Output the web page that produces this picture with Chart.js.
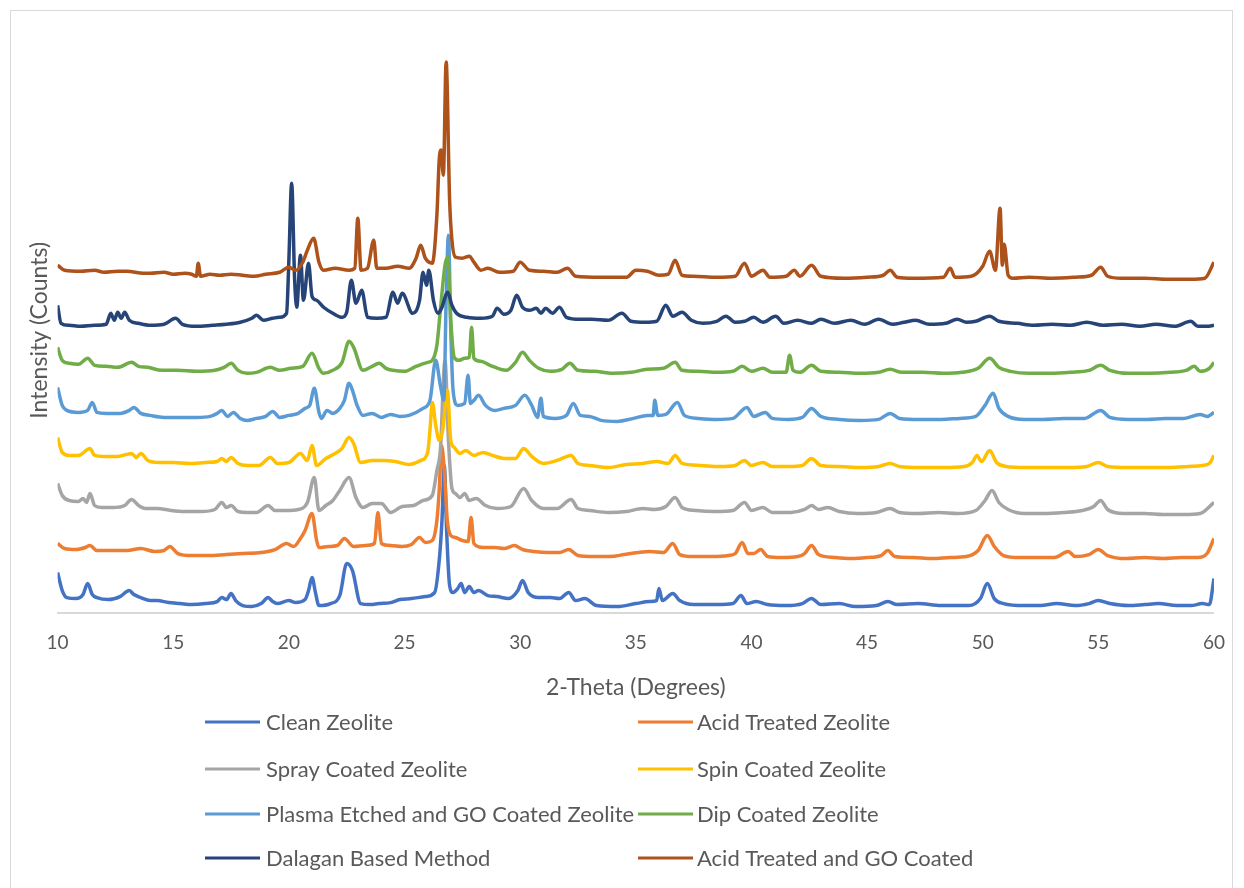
<!DOCTYPE html>
<html>
<head>
<meta charset="utf-8">
<title>XRD Patterns</title>
<script src="https://cdn.jsdelivr.net/npm/chart.js@4.4.1/dist/chart.umd.min.js"></script>
<style>
    html, body { margin: 0; padding: 0; background: #ffffff; }
    #wrap { position: relative; width: 1244px; height: 888px; }
</style>
</head>
<body>
<div id="wrap"><canvas id="xrdChart" width="1244" height="888"></canvas></div>
<script>
// XRD patterns, stacked (values already include the vertical offset)

// Axis
const xTicks = [10, 15, 20, 25, 30, 35, 40, 45, 50, 55, 60];
const yRange = [0, 564];

// Series: [2-theta, intensity]
const cleanZeolite = [
    [10.0, 40], [10.2, 22], [10.4, 15], [10.8, 14], [11.1, 18], [11.3, 29], [11.5, 18], [11.7, 15],
    [12.2, 13], [12.7, 16], [13.1, 22], [13.3, 18], [13.6, 15], [14.0, 12], [14.3, 12], [14.8, 10],
    [15.3, 9], [15.8, 8], [16.4, 9], [16.9, 11], [17.1, 15], [17.3, 13], [17.5, 19], [17.7, 12],
    [18.0, 7], [18.4, 6], [18.8, 9], [19.1, 15], [19.3, 11], [19.5, 9], [20.0, 12], [20.3, 10],
    [20.7, 13], [20.85, 22], [21.0, 35], [21.15, 20], [21.3, 7], [21.8, 9], [22.2, 17], [22.5, 49],
    [22.75, 42], [23.1, 9], [23.5, 8], [23.9, 9], [24.4, 10], [24.8, 13], [25.3, 14], [25.9, 16],
    [26.3, 20], [26.5, 52], [26.62, 92], [26.72, 147], [26.82, 82], [26.95, 27], [27.1, 20], [27.3, 24],
    [27.45, 29], [27.6, 20], [27.8, 26], [28.0, 20], [28.2, 22], [28.6, 17], [29.0, 16], [29.5, 14],
    [29.9, 22], [30.1, 32], [30.35, 20], [30.8, 15], [31.3, 15], [31.7, 14], [32.1, 20], [32.4, 12],
    [32.8, 14], [33.3, 7], [34.2, 6], [35.0, 9], [35.6, 11], [35.9, 12], [36.0, 24], [36.15, 12],
    [36.6, 19], [36.9, 12], [37.5, 8], [38.5, 8], [39.2, 9], [39.55, 17], [39.8, 9], [40.2, 11],
    [40.7, 8], [41.5, 7], [42.2, 9], [42.6, 14], [43.0, 8], [43.8, 9], [44.5, 6], [45.4, 7],
    [45.9, 11], [46.3, 8], [47.2, 9], [48.2, 7], [49.4, 7], [49.9, 14], [50.2, 29], [50.5, 14],
    [50.9, 9], [51.8, 7], [52.5, 7], [53.2, 9], [54.0, 7], [54.6, 9], [55.0, 12], [55.5, 9],
    [56.3, 7], [57.0, 8], [57.6, 9], [58.4, 7], [59.0, 7], [59.5, 9], [59.8, 8], [60.0, 34]
];

const acidTreated = [
    [10.0, 69], [10.3, 64], [10.8, 63], [11.2, 65], [11.4, 67], [11.7, 62], [12.3, 62], [13.0, 62],
    [13.6, 64], [14.2, 61], [14.6, 62], [14.85, 66], [15.2, 59], [15.8, 57], [16.5, 57], [17.3, 58],
    [18.0, 59], [18.8, 60], [19.4, 63], [19.9, 69], [20.2, 66], [20.5, 74], [20.7, 82], [21.0, 99],
    [21.2, 72], [21.3, 65], [21.7, 66], [22.1, 67], [22.4, 74], [22.8, 66], [23.3, 67], [23.7, 69],
    [23.85, 100], [24.0, 69], [24.4, 67], [24.9, 66], [25.3, 68], [25.65, 75], [25.9, 70], [26.2, 72],
    [26.4, 92], [26.5, 122], [26.6, 167], [26.72, 142], [26.85, 92], [27.0, 77], [27.2, 75], [27.5, 72],
    [27.75, 71], [27.88, 95], [28.0, 69], [28.4, 65], [28.9, 65], [29.3, 64], [29.75, 67], [30.1, 63],
    [30.6, 61], [31.2, 60], [31.7, 60], [32.1, 63], [32.5, 57], [33.2, 56], [33.9, 56], [34.5, 58],
    [35.1, 60], [35.6, 61], [36.2, 60], [36.6, 69], [36.9, 58], [37.5, 56], [38.3, 56], [39.0, 57],
    [39.3, 59], [39.6, 70], [39.85, 59], [40.1, 59], [40.4, 63], [40.7, 56], [41.3, 55], [42.0, 56],
    [42.3, 59], [42.6, 67], [42.9, 58], [43.6, 55], [44.3, 54], [45.0, 55], [45.6, 57], [45.9, 62],
    [46.2, 56], [47.0, 55], [47.8, 54], [48.6, 55], [49.3, 56], [49.8, 62], [50.2, 77], [50.5, 66],
    [50.9, 57], [51.6, 55], [52.4, 55], [53.1, 55], [53.7, 61], [54.0, 56], [54.6, 58], [55.0, 63],
    [55.4, 57], [56.2, 54], [57.0, 55], [57.8, 54], [58.6, 55], [59.3, 55], [59.7, 59], [60.0, 74]
];

const sprayCoated = [
    [10.0, 129], [10.2, 117], [10.5, 112], [10.9, 111], [11.1, 114], [11.25, 110], [11.4, 119], [11.6, 107],
    [11.9, 105], [12.4, 105], [12.9, 107], [13.2, 113], [13.5, 107], [13.8, 104], [14.3, 104], [14.9, 102],
    [15.5, 101], [16.2, 101], [16.8, 103], [17.1, 110], [17.3, 105], [17.5, 107], [17.8, 101], [18.2, 100],
    [18.6, 100], [19.1, 107], [19.4, 102], [19.9, 102], [20.4, 103], [20.8, 110], [21.1, 135], [21.3, 102],
    [21.6, 107], [21.9, 112], [22.2, 122], [22.6, 135], [22.9, 115], [23.2, 105], [23.6, 109], [24.0, 109],
    [24.4, 100], [24.9, 106], [25.4, 107], [25.8, 112], [26.2, 117], [26.4, 142], [26.55, 162], [26.75, 252],
    [26.9, 172], [27.05, 124], [27.2, 119], [27.4, 115], [27.6, 119], [27.8, 112], [28.1, 114], [28.5, 107],
    [29.0, 104], [29.6, 106], [30.15, 124], [30.5, 112], [31.0, 104], [31.6, 104], [32.2, 113], [32.5, 104],
    [33.0, 102], [33.8, 100], [34.6, 101], [35.3, 104], [35.8, 103], [36.3, 106], [36.7, 115], [37.0, 105],
    [37.6, 102], [38.4, 101], [39.2, 102], [39.7, 110], [40.0, 102], [40.5, 105], [40.9, 100], [41.7, 100],
    [42.3, 103], [42.6, 107], [42.9, 103], [43.3, 105], [43.8, 101], [44.6, 99], [45.4, 100], [46.0, 104],
    [46.4, 100], [47.2, 99], [48.1, 100], [48.9, 99], [49.7, 102], [50.1, 112], [50.4, 122], [50.7, 110],
    [51.1, 103], [51.8, 99], [52.6, 99], [53.5, 100], [54.3, 102], [54.8, 106], [55.1, 112], [55.4, 103],
    [56.1, 99], [57.0, 99], [57.8, 98], [58.7, 98], [59.4, 99], [60.0, 110]
];

const spinCoated = [
    [10.0, 175], [10.2, 160], [10.5, 157], [10.9, 157], [11.4, 164], [11.6, 157], [12.0, 156], [12.6, 156],
    [13.2, 159], [13.4, 155], [13.6, 159], [13.9, 152], [14.4, 150], [15.0, 150], [15.7, 149], [16.4, 150],
    [16.9, 151], [17.1, 154], [17.3, 151], [17.5, 155], [17.8, 149], [18.2, 147], [18.7, 147], [19.2, 155],
    [19.5, 149], [20.0, 150], [20.5, 159], [20.8, 152], [21.0, 167], [21.2, 147], [21.6, 154], [22.0, 159],
    [22.3, 164], [22.6, 175], [22.8, 169], [23.1, 150], [23.6, 152], [24.1, 152], [24.6, 151], [25.2, 148],
    [25.7, 152], [26.0, 160], [26.1, 182], [26.2, 210], [26.35, 187], [26.5, 172], [26.65, 182], [26.85, 222],
    [27.0, 172], [27.15, 165], [27.4, 159], [27.65, 162], [28.0, 157], [28.4, 160], [28.8, 157], [29.3, 154],
    [29.8, 154], [30.15, 164], [30.5, 156], [31.0, 149], [31.6, 152], [32.2, 157], [32.5, 149], [33.0, 147],
    [33.8, 145], [34.6, 148], [35.3, 149], [35.9, 151], [36.4, 149], [36.7, 157], [37.0, 149], [37.8, 147],
    [38.6, 146], [39.3, 147], [39.7, 152], [40.0, 147], [40.5, 150], [40.9, 146], [41.6, 146], [42.2, 147],
    [42.6, 154], [43.0, 147], [43.8, 146], [44.7, 145], [45.5, 146], [46.0, 149], [46.4, 146], [47.3, 145],
    [48.3, 145], [49.2, 146], [49.55, 150], [49.75, 157], [49.95, 151], [50.3, 162], [50.6, 150], [51.0, 146],
    [51.9, 145], [52.8, 145], [53.7, 145], [54.5, 146], [55.0, 150], [55.4, 146], [56.3, 145], [57.2, 145],
    [58.1, 145], [58.9, 146], [59.5, 147], [59.8, 149], [60.0, 157]
];

const plasmaEtchedGO = [
    [10.0, 225], [10.2, 207], [10.4, 202], [10.9, 200], [11.3, 202], [11.5, 210], [11.7, 200], [12.1, 199],
    [12.7, 199], [13.1, 202], [13.3, 205], [13.6, 199], [14.0, 197], [14.6, 195], [15.3, 195], [16.0, 195],
    [16.6, 196], [16.9, 199], [17.1, 202], [17.35, 196], [17.6, 200], [17.9, 194], [18.2, 192], [18.6, 194],
    [19.0, 196], [19.3, 201], [19.6, 195], [20.0, 197], [20.4, 199], [20.7, 204], [20.9, 207], [21.1, 224],
    [21.3, 200], [21.4, 194], [21.65, 202], [21.9, 199], [22.2, 204], [22.4, 212], [22.6, 229], [22.75, 222],
    [22.95, 207], [23.2, 197], [23.6, 199], [24.0, 195], [24.4, 198], [24.8, 196], [25.2, 197], [25.8, 204],
    [26.1, 212], [26.35, 252], [26.55, 227], [26.7, 212], [26.8, 312], [26.9, 377], [27.0, 282], [27.1, 222],
    [27.3, 207], [27.6, 209], [27.75, 237], [27.85, 209], [28.0, 212], [28.2, 217], [28.5, 207], [28.9, 202],
    [29.3, 204], [29.8, 207], [30.2, 217], [30.5, 207], [30.75, 195], [30.9, 214], [31.0, 196], [31.5, 194],
    [32.0, 197], [32.3, 209], [32.6, 197], [33.0, 196], [33.5, 192], [34.2, 191], [34.9, 194], [35.5, 197],
    [35.75, 197], [35.82, 212], [35.95, 197], [36.3, 198], [36.8, 210], [37.1, 197], [37.7, 194], [38.5, 193],
    [39.2, 194], [39.8, 205], [40.1, 196], [40.6, 200], [40.9, 194], [41.6, 193], [42.2, 195], [42.6, 204],
    [43.0, 196], [43.8, 193], [44.7, 192], [45.5, 193], [46.0, 199], [46.4, 194], [47.3, 193], [48.2, 193],
    [49.0, 194], [49.7, 196], [50.1, 207], [50.45, 219], [50.7, 204], [51.1, 196], [51.8, 193], [52.6, 193],
    [53.5, 194], [54.4, 194], [55.1, 202], [55.5, 195], [56.3, 193], [57.1, 193], [57.9, 194], [58.7, 194],
    [59.4, 198], [59.7, 196], [60.0, 200]
];

const dipCoated = [
    [10.0, 265], [10.2, 252], [10.5, 249], [10.9, 248], [11.3, 254], [11.6, 247], [12.1, 246], [12.6, 245],
    [13.2, 250], [13.5, 246], [13.9, 245], [14.5, 242], [15.2, 242], [16.0, 241], [16.8, 242], [17.2, 245],
    [17.5, 249], [17.8, 242], [18.2, 239], [18.6, 240], [19.2, 245], [19.6, 242], [20.1, 244], [20.6, 246],
    [21.0, 259], [21.3, 244], [21.5, 239], [21.9, 242], [22.3, 250], [22.6, 271], [22.8, 265], [23.2, 242],
    [23.6, 246], [23.9, 249], [24.2, 244], [24.5, 242], [25.0, 241], [25.5, 246], [26.0, 250], [26.2, 252],
    [26.4, 267], [26.55, 302], [26.75, 347], [26.87, 355], [27.0, 292], [27.15, 255], [27.35, 252], [27.6, 254],
    [27.8, 255], [27.9, 285], [28.0, 254], [28.3, 251], [28.7, 247], [29.4, 242], [29.8, 250], [30.1, 260],
    [30.4, 252], [30.8, 244], [31.3, 241], [31.8, 243], [32.15, 249], [32.5, 242], [33.2, 241], [34.0, 239],
    [34.8, 240], [35.5, 243], [36.2, 244], [36.7, 250], [37.0, 242], [37.7, 241], [38.5, 240], [39.2, 241],
    [39.6, 246], [40.0, 241], [40.5, 244], [40.9, 240], [41.5, 240], [41.65, 257], [41.8, 242], [42.1, 240],
    [42.6, 247], [43.0, 241], [43.8, 240], [44.7, 239], [45.5, 240], [46.0, 243], [46.5, 240], [47.4, 240],
    [48.3, 239], [49.1, 240], [49.8, 244], [50.3, 254], [50.7, 245], [51.2, 241], [52.0, 239], [52.9, 239],
    [53.8, 240], [54.6, 242], [55.1, 247], [55.5, 242], [56.3, 239], [57.2, 239], [58.1, 240], [58.8, 242],
    [59.15, 246], [59.4, 241], [59.8, 244], [60.0, 250]
];

const dalaganMethod = [
    [10.0, 307], [10.15, 289], [10.5, 287], [11.0, 286], [11.6, 287], [12.1, 288], [12.3, 299], [12.45, 292],
    [12.6, 300], [12.75, 294], [12.9, 300], [13.1, 292], [13.5, 289], [14.0, 287], [14.6, 288], [15.1, 294],
    [15.4, 288], [16.0, 286], [16.7, 287], [17.3, 288], [17.9, 290], [18.4, 294], [18.6, 297], [18.9, 292],
    [19.3, 294], [19.6, 295], [19.9, 299], [20.0, 352], [20.12, 429], [20.25, 332], [20.34, 305], [20.5, 357],
    [20.63, 312], [20.85, 349], [21.0, 316], [21.2, 312], [21.5, 305], [21.9, 299], [22.3, 295], [22.5, 300],
    [22.7, 332], [22.9, 309], [23.15, 322], [23.4, 295], [23.8, 294], [24.2, 295], [24.5, 320], [24.7, 309],
    [24.9, 319], [25.35, 299], [25.65, 312], [25.8, 340], [25.95, 327], [26.05, 342], [26.25, 312], [26.45, 299],
    [26.6, 304], [26.87, 320], [27.05, 307], [27.25, 299], [27.7, 295], [28.3, 294], [28.8, 296], [29.0, 304],
    [29.3, 298], [29.6, 302], [29.85, 317], [30.1, 305], [30.4, 302], [30.7, 304], [30.9, 299], [31.1, 304],
    [31.4, 299], [31.7, 305], [32.0, 295], [32.6, 293], [33.1, 293], [33.8, 292], [34.4, 299], [34.8, 291],
    [35.4, 290], [35.9, 291], [36.3, 307], [36.6, 296], [37.0, 300], [37.4, 292], [37.9, 289], [38.5, 291],
    [38.9, 296], [39.3, 290], [39.7, 291], [40.1, 295], [40.5, 290], [41.05, 296], [41.4, 289], [42.0, 292],
    [42.6, 289], [43.0, 293], [43.6, 289], [44.3, 292], [44.9, 288], [45.5, 293], [46.1, 288], [46.6, 290],
    [47.1, 292], [47.7, 288], [48.4, 289], [48.9, 293], [49.3, 290], [49.7, 291], [50.3, 296], [50.7, 291],
    [51.5, 289], [52.2, 287], [53.0, 288], [53.8, 287], [54.5, 290], [55.2, 287], [56.0, 288], [56.8, 286],
    [57.5, 288], [58.3, 286], [59.0, 291], [59.3, 286], [59.7, 286], [60.0, 287]
];

const acidTreatedGO = [
    [10.0, 347], [10.3, 342], [11.0, 341], [11.6, 342], [12.0, 340], [12.6, 341], [13.0, 341], [13.7, 339],
    [14.0, 339], [14.6, 340], [15.0, 338], [15.5, 339], [15.8, 338], [16.0, 336], [16.08, 349], [16.18, 336],
    [16.6, 338], [17.0, 337], [17.5, 338], [18.0, 337], [18.5, 336], [19.0, 338], [19.6, 340], [20.0, 345],
    [20.3, 342], [20.6, 350], [20.8, 362], [21.07, 374], [21.3, 350], [21.5, 342], [22.0, 344], [22.6, 342],
    [22.85, 344], [22.98, 394], [23.12, 342], [23.4, 344], [23.67, 372], [23.8, 344], [24.2, 344], [24.7, 346],
    [25.2, 344], [25.5, 354], [25.7, 367], [25.9, 354], [26.2, 349], [26.4, 397], [26.5, 452], [26.58, 462],
    [26.68, 437], [26.8, 550], [26.95, 412], [27.05, 372], [27.2, 355], [27.5, 354], [27.8, 356], [28.0, 350],
    [28.3, 342], [28.6, 344], [29.1, 340], [29.7, 341], [30.0, 350], [30.4, 342], [31.0, 341], [31.6, 340],
    [32.05, 344], [32.4, 336], [33.5, 335], [34.6, 335], [35.0, 342], [35.5, 341], [36.0, 337], [36.4, 338],
    [36.7, 352], [37.0, 337], [37.5, 336], [38.5, 335], [39.3, 336], [39.7, 349], [40.0, 336], [40.5, 342],
    [40.8, 335], [41.5, 336], [41.85, 342], [42.1, 336], [42.6, 347], [43.0, 336], [44.0, 334], [45.0, 335],
    [45.7, 337], [46.0, 342], [46.3, 335], [47.0, 334], [48.3, 335], [48.6, 344], [48.8, 335], [49.5, 336],
    [50.0, 346], [50.3, 361], [50.55, 342], [50.75, 404], [50.85, 347], [50.93, 368], [51.1, 337], [51.3, 334],
    [52.0, 335], [53.0, 334], [54.0, 335], [54.7, 337], [55.1, 345], [55.4, 336], [56.0, 334], [57.0, 334],
    [58.0, 333], [59.0, 333], [59.6, 334], [60.0, 350]
];

const seriesNames = [
    'Clean Zeolite', 'Acid Treated Zeolite', 'Spray Coated Zeolite', 'Spin Coated Zeolite',
    'Plasma Etched and GO Coated Zeolite', 'Dip Coated Zeolite', 'Dalagan Based Method', 'Acid Treated and GO Coated'
];
const seriesData = [cleanZeolite, acidTreated, sprayCoated, spinCoated, plasmaEtchedGO, dipCoated, dalaganMethod, acidTreatedGO];
const seriesColors = ['#4472C4', '#ED7D31', '#A5A5A5', '#FFC000', '#5B9BD5', '#70AD47', '#264478', '#AD521A'];

// Look
const FONT = 'Lato, "Open Sans", sans-serif';
const TEXT = '#595959';

// Chart background + outer frame
const framePlugin = {
    id: 'frame',
    beforeDraw(chart) {
        const ctx = chart.ctx;
        ctx.save();
        ctx.fillStyle = '#ffffff';
        ctx.fillRect(0, 0, chart.width, chart.height);
        ctx.strokeStyle = '#d9d9d9';
        ctx.lineWidth = 1;
        ctx.strokeRect(10.5, 10.5, chart.width - 22, chart.height + 10);
        ctx.restore();
    }
};

// Two-column legend like the spreadsheet one
const legendPlugin = {
    id: 'twoColLegend',
    afterDraw(chart) {
        const ctx = chart.ctx;
        const cols = [{ line: 205, text: 266 }, { line: 638, text: 697 }];
        const rows = [722, 769, 814, 858];
        ctx.save();
        ctx.font = '22px ' + FONT;
        ctx.textBaseline = 'middle';
        ctx.fillStyle = TEXT;
        chart.data.datasets.forEach((ds, i) => {
            const c = cols[i % 2];
            const y = rows[Math.floor(i / 2)];
            ctx.strokeStyle = ds.borderColor;
            ctx.lineWidth = 3;
            ctx.beginPath();
            ctx.moveTo(c.line, y);
            ctx.lineTo(c.line + 55, y);
            ctx.stroke();
            ctx.fillText(ds.label, c.text, y + 1);
        });
        ctx.restore();
    }
};

function buildDatasets() {
    return seriesNames.map((name, i) => ({
        label: name,
        data: seriesData[i].map(p => ({ x: p[0], y: p[1] })),
        borderColor: seriesColors[i],
        backgroundColor: seriesColors[i],
        borderWidth: 3.5,
        borderJoinStyle: 'round',
        pointRadius: 0,
        fill: false,
        cubicInterpolationMode: 'monotone',
        order: seriesNames.length - i   // later series on top, as in the original
    }));
}

const ctx = document.getElementById('xrdChart').getContext('2d');
const chart = new Chart(ctx, {
    type: 'line',
    data: { datasets: buildDatasets() },
    options: {
        responsive: false,
        animation: false,
        layout: { padding: { left: 22, right: 30, top: 48, bottom: 187 } },
        plugins: {
            legend: { display: false },
            tooltip: { enabled: false }
        },
        scales: {
            x: {
                type: 'linear',
                min: xTicks[0],
                max: xTicks[xTicks.length - 1],
                afterBuildTicks: axis => { axis.ticks = xTicks.map(v => ({ value: v })); },
                grid: { display: false, drawTicks: false },
                border: { display: true, color: '#d9d9d9', width: 2 },
                ticks: { color: TEXT, font: { family: FONT, size: 19 }, padding: 19, maxRotation: 0 },
                title: {
                    display: true,
                    text: '2-Theta (Degrees)',
                    color: TEXT,
                    font: { family: FONT, size: 23 },
                    padding: { top: 0, bottom: 0 }
                }
            },
            y: {
                min: yRange[0],
                max: yRange[1],
                grid: { display: false, drawTicks: false },
                border: { display: false },
                ticks: { display: false },
                title: {
                    display: true,
                    text: 'Intensity (Counts)',
                    color: TEXT,
                    font: { family: FONT, size: 23 },
                    padding: { top: 4, bottom: 4 }
                }
            }
        }
    },
    plugins: [framePlugin, legendPlugin]
});
</script>
</body>
</html>
